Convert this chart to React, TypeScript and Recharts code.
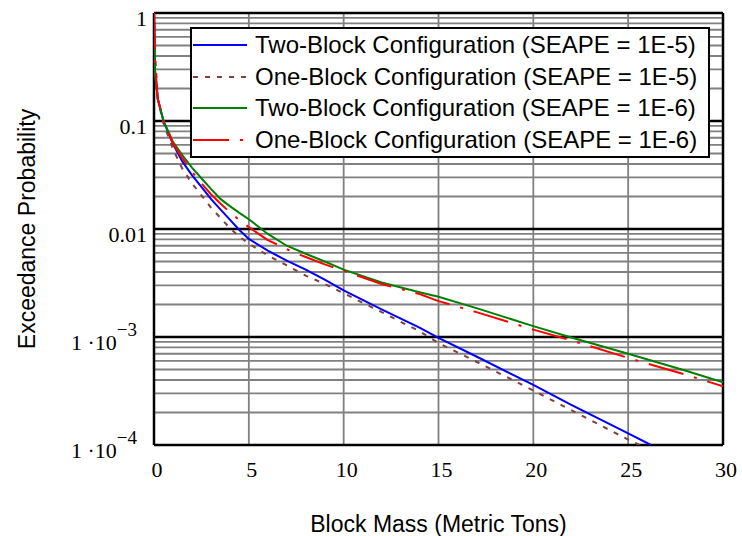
import { LineChart, Line, XAxis, YAxis, ReferenceLine, Legend } from "recharts";

// block mass (metric tons) sample points
const massTons = [0, 0.05, 0.2, 0.5, 1, 1.5, 2, 2.5, 3, 3.5, 4, 4.5, 5, 6, 7, 8, 9, 10, 12, 14, 15, 17, 20, 22, 25, 28, 30];

const twoBlock1e6 = [
  1, 0.27, 0.16, 0.1, 0.064, 0.048, 0.037, 0.0295, 0.0235, 0.019, 0.0163, 0.0141, 0.0123, 0.009, 0.007, 0.0059,
  0.005, 0.0042, 0.0032, 0.0026, 0.00236, 0.00185, 0.00126, 0.00099, 0.0007, 0.00049, 0.00038,
];
const oneBlock1e6 = [
  1, 0.35, 0.16, 0.1, 0.062, 0.045, 0.034, 0.0265, 0.021, 0.0172, 0.0143, 0.0121, 0.0104, 0.0079, 0.0065, 0.0055,
  0.0047, 0.0041, 0.0031, 0.0025, 0.00215, 0.0017, 0.00117, 0.00093, 0.00064, 0.00045, 0.00035,
];

const massTwoBlock1e5 = [...massTons.slice(0, 25), 26.2];
const twoBlock1e5 = [
  1, 0.3, 0.16, 0.1, 0.061, 0.042, 0.0315, 0.0245, 0.019, 0.0152, 0.0122, 0.0098, 0.0081, 0.0063, 0.0051, 0.0042,
  0.0034, 0.0027, 0.0018, 0.00122, 0.00098, 0.00066, 0.00036, 0.000235, 0.000128, 0.0001,
];
const massOneBlock1e5 = [...massTons.slice(0, 25), 25.6];
const oneBlock1e5 = [
  1, 0.45, 0.16, 0.095, 0.055, 0.036, 0.0265, 0.0205, 0.0158, 0.0127, 0.0102, 0.0085, 0.0073, 0.0057, 0.0046, 0.0037,
  0.0031, 0.00254, 0.0017, 0.00113, 0.00088, 0.00059, 0.00032, 0.00021, 0.000112, 0.0001,
];

const xTicks = [0, 5, 10, 15, 20, 25, 30];
const yTicks = [1e-4, 1e-3, 0.01, 0.1, 1];
const minorSteps = [2, 3, 4, 5, 6, 7, 8, 9];

const rows = (ts: number[], ps: number[]) => ts.map((t, i) => ({ t, p: ps[i] }));

const series = [
  { name: "Two-Block Configuration (SEAPE = 1E-5)", color: "#0000ff", dash: undefined, data: rows(massTwoBlock1e5, twoBlock1e5) },
  { name: "One-Block Configuration (SEAPE = 1E-5)", color: "#804040", dash: "5 7", data: rows(massOneBlock1e5, oneBlock1e5) },
  { name: "Two-Block Configuration (SEAPE = 1E-6)", color: "#008000", dash: undefined, data: rows(massTons, twoBlock1e6) },
  { name: "One-Block Configuration (SEAPE = 1E-6)", color: "#ff0000", dash: "36 11 3 11", data: rows(massTons, oneBlock1e6) },
];

const minorValues = yTicks.slice(0, 4).flatMap((d) => minorSteps.map((m) => d * m));

const serif = "'Liberation Serif', 'Times New Roman', serif";
const sans = "'Liberation Sans', Arial, sans-serif";

function YTick({ x, y, payload }: any) {
  const v = payload.value as number;
  if (v >= 0.01) {
    return (
      <text x={x} y={y + 13} textAnchor="end" fontFamily={serif} fontSize={22} fill="#000">
        {String(v)}
      </text>
    );
  }
  const exp = Math.round(Math.log10(v));
  return (
    <text x={x - 10} y={y + 13} textAnchor="end" fontFamily={serif} fontSize={22} fill="#000">
      1 ·10
      <tspan dy={-14} fontSize={19}>
        {"\u2212" + Math.abs(exp)}
      </tspan>
    </text>
  );
}

function XTick({ x, y, payload }: any) {
  return (
    <text x={x + 3} y={y + 32} textAnchor="middle" fontFamily={serif} fontSize={22} fill="#000">
      {payload.value}
    </text>
  );
}

function LegendBox() {
  return (
    <div
      style={{
        boxSizing: "border-box",
        width: 520,
        height: 131,
        border: "2.5px solid #000",
        background: "#fff",
        paddingTop: 0,
      }}
    >
      {series.map((s) => (
        <div key={s.name} style={{ display: "flex", alignItems: "center", height: 31.7, paddingLeft: 1 }}>
          <svg width={54} height={10}>
            <line x1={0} y1={5} x2={54} y2={5} stroke={s.color} strokeWidth={2} strokeDasharray={s.dash} />
          </svg>
          <span style={{ marginLeft: 8, fontFamily: sans, fontSize: 24, color: "#000", whiteSpace: "nowrap" }}>
            {s.name}
          </span>
        </div>
      ))}
    </div>
  );
}

export default function App() {
  return (
    <div style={{ position: "absolute", left: 0, top: 0, background: "#fff" }}>
      <LineChart width={742} height={536} margin={{ top: 13, right: 19, bottom: 0, left: 0 }}>
        <XAxis
          dataKey="t"
          type="number"
          domain={[0, 30]}
          ticks={xTicks}
          allowDataOverflow
          height={91}
          tickLine={false}
          axisLine={false}
          tickSize={0}
          tickMargin={0}
          tick={<XTick />}
          label={{
            value: "Block Mass (Metric Tons)",
            position: "insideBottom",
            offset: 4,
            style: { fontFamily: sans, fontSize: 23, fill: "#000" },
          }}
        />
        <YAxis
          dataKey="p"
          type="number"
          scale="log"
          domain={[1e-4, 1]}
          ticks={yTicks}
          allowDataOverflow
          width={154}
          tickLine={false}
          axisLine={false}
          tickSize={0}
          tickMargin={7}
          tick={<YTick />}
          label={{
            value: "Exceedance Probability",
            content: ({ viewBox }: any) => {
              const cx = 35;
              const cy = viewBox.y + viewBox.height / 2;
              return (
                <text
                  x={cx}
                  y={cy}
                  transform={`rotate(-90, ${cx}, ${cy})`}
                  textAnchor="middle"
                  fontFamily={sans}
                  fontSize={23}
                  fill="#000"
                >
                  Exceedance Probability
                </text>
              );
            },
          }}
        />
        {minorValues.map((v) => (
          <ReferenceLine key={`m${v}`} y={v} stroke="#808080" strokeWidth={1.8} />
        ))}
        {xTicks.slice(1, -1).map((v) => (
          <ReferenceLine key={`v${v}`} x={v} stroke="#808080" strokeWidth={1.8} />
        ))}
        {yTicks.map((v) => (
          <ReferenceLine key={`d${v}`} y={v} stroke="#000" strokeWidth={2.5} />
        ))}
        <ReferenceLine x={0} stroke="#000" strokeWidth={2.5} />
        <ReferenceLine x={30} stroke="#000" strokeWidth={2.5} />
        {series.map((s) => (
          <Line
            key={s.name}
            data={s.data}
            dataKey="p"
            name={s.name}
            type="linear"
            stroke={s.color}
            strokeWidth={2}
            strokeDasharray={s.dash}
            dot={false}
            activeDot={false}
            isAnimationActive={false}
          />
        ))}
        <Legend
          layout="vertical"
          align="center"
          verticalAlign="middle"
          wrapperStyle={{ position: "absolute", left: 190, top: 27, width: 520, height: 131 }}
          content={() => <LegendBox />}
        />
      </LineChart>
    </div>
  );
}
